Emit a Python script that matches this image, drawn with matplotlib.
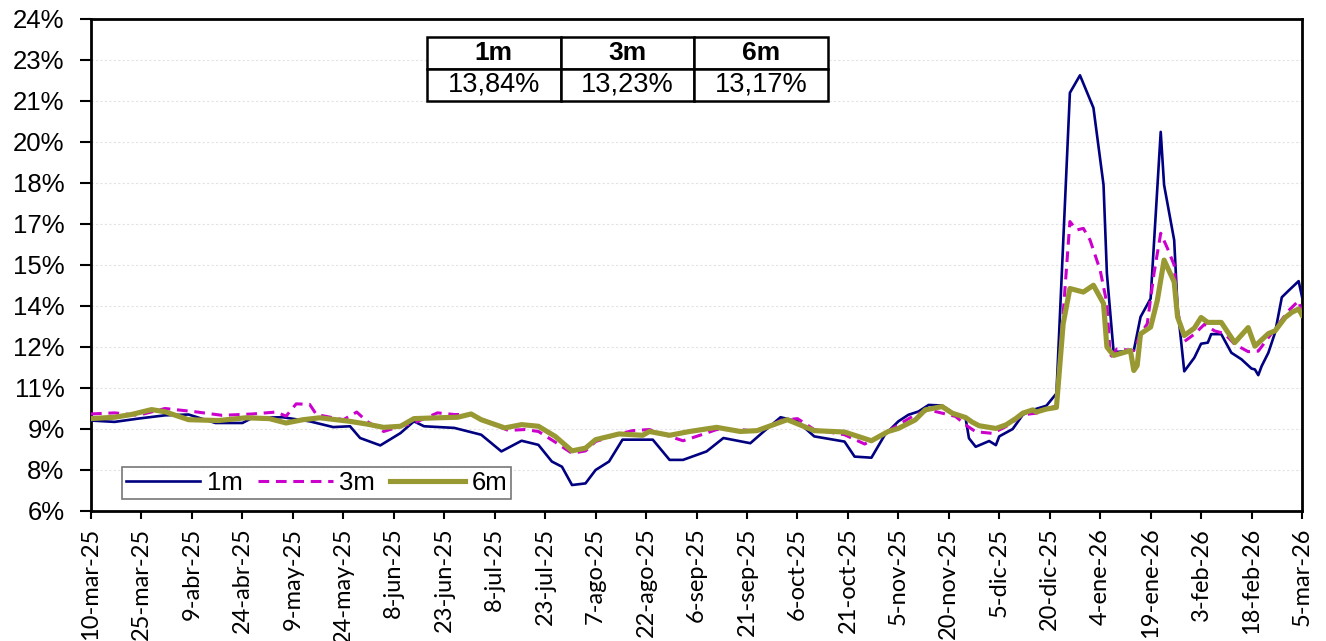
import numpy as np
import matplotlib
matplotlib.use('Agg')
import matplotlib.pyplot as plt
import matplotlib.dates as mdates
from matplotlib.ticker import FixedLocator, FixedFormatter

# ---------------- data ----------------
start_date = np.datetime64('2025-03-10')

days_1m = [0, 7, 14, 22, 29, 37, 45, 48, 57, 65, 72, 77, 80, 86, 92, 96, 99, 108, 116, 122,
           128, 133, 137, 140, 143, 147, 150, 154, 158, 167, 172, 176, 183, 188, 196, 200, 205,
           210, 215, 224, 227, 232, 236, 240, 243, 246, 249, 253, 255, 257, 260, 261, 263, 267,
           269, 270, 274, 277, 280, 284, 287, 291, 294, 298, 301, 302, 304, 310, 312, 315, 318,
           319, 322, 323, 325, 328, 330, 332, 333, 336, 339, 342, 345, 346, 347, 348, 350, 352,
           354, 356, 359, 360]
vol_1m = [9.31, 9.26, 9.38, 9.50, 9.53, 9.22, 9.22, 9.41, 9.43, 9.28, 9.07, 9.10, 8.67, 8.40,
          8.85, 9.28, 9.10, 9.04, 8.79, 8.18, 8.57, 8.42, 7.81, 7.62, 6.95, 7.01, 7.50, 7.81,
          8.61, 8.61, 7.87, 7.87, 8.18, 8.67, 8.48, 8.91, 9.43, 9.28, 8.73, 8.54, 7.99, 7.95,
          8.79, 9.28, 9.52, 9.64, 9.88, 9.86, 9.70, 9.52, 9.39, 8.66, 8.35, 8.56, 8.41, 8.73,
          9.00, 9.52, 9.70, 9.85, 10.30, 21.30, 21.94, 20.75, 17.93, 14.69, 11.81, 11.87, 13.10,
          13.77, 19.87, 17.93, 15.91, 13.46, 11.11, 11.61, 12.12, 12.16, 12.47, 12.47, 11.79,
          11.55, 11.21, 11.18, 10.97, 11.30, 11.79, 12.53, 13.82, 14.06, 14.41, 13.84]

days_3m = [0, 7, 14, 22, 31, 39, 48, 55, 58, 61, 65, 67, 72, 75, 79, 82, 87, 92, 96, 103, 108,
           113, 120, 124, 129, 133, 138, 143, 147, 150, 157, 161, 166, 171, 176, 181, 186, 193,
           198, 205, 210, 215, 224, 230, 236, 240, 245, 249, 253, 257, 260, 263, 268, 272, 277,
           281, 285, 287, 291, 293, 295, 297, 300, 302, 303, 305, 310, 312, 314, 316, 318, 320,
           322, 323, 325, 328, 331, 334, 337, 340, 344, 347, 350, 353, 356, 359, 360]
vol_3m = [9.55, 9.59, 9.50, 9.75, 9.63, 9.50, 9.55, 9.62, 9.47, 9.92, 9.90, 9.53, 9.41, 9.34,
          9.62, 9.28, 8.91, 9.10, 9.22, 9.59, 9.53, 9.53, 9.16, 8.95, 8.98, 8.91, 8.52, 8.11,
          8.20, 8.54, 8.82, 8.94, 8.98, 8.77, 8.57, 8.77, 8.98, 8.98, 8.91, 9.31, 9.38, 8.98,
          8.79, 8.45, 8.85, 9.15, 9.52, 9.70, 9.58, 9.46, 9.15, 8.90, 8.84, 9.09, 9.52, 9.58,
          9.76, 9.85, 16.59, 16.28, 16.34, 15.91, 14.81, 13.59, 11.63, 11.93, 11.87, 12.48,
          12.85, 14.69, 16.16, 15.61, 15.00, 13.33, 12.20, 12.47, 12.83, 12.59, 12.49, 12.10,
          11.83, 11.85, 12.34, 12.83, 13.33, 13.69, 13.23]

days_6m = [0, 7, 12, 18, 22, 29, 38, 46, 53, 58, 63, 68, 77, 82, 87, 92, 96, 103, 109, 113, 116,
           123, 128, 133, 138, 143, 147, 150, 157, 164, 166, 172, 178, 186, 193, 198, 207, 215,
           224, 232, 237, 240, 245, 248, 253, 256, 260, 262, 264, 269, 272, 275, 277, 280, 281,
           284, 287, 289, 291, 295, 298, 301, 302, 304, 309, 310, 311, 312, 315, 317, 319, 322,
           323, 325, 328, 330, 332, 336, 340, 344, 346, 350, 352, 355, 357, 359, 360]
vol_6m = [9.38, 9.43, 9.53, 9.71, 9.63, 9.34, 9.31, 9.41, 9.38, 9.22, 9.34, 9.41, 9.28, 9.18,
          9.06, 9.10, 9.38, 9.41, 9.43, 9.55, 9.34, 9.04, 9.16, 9.10, 8.73, 8.20, 8.30, 8.61,
          8.82, 8.77, 8.91, 8.77, 8.91, 9.06, 8.91, 8.94, 9.34, 8.94, 8.89, 8.57, 8.91, 9.02,
          9.33, 9.70, 9.82, 9.58, 9.42, 9.25, 9.12, 9.02, 9.15, 9.39, 9.58, 9.70, 9.62, 9.73,
          9.79, 12.85, 14.14, 14.01, 14.26, 13.59, 12.00, 11.69, 11.87, 11.14, 11.32, 12.48,
          12.73, 13.71, 15.18, 14.38, 13.10, 12.42, 12.69, 13.08, 12.90, 12.90, 12.16, 12.71,
          12.03, 12.49, 12.59, 13.08, 13.27, 13.39, 13.17]

series_names = ['1m', '3m', '6m']

x_tick_labels = ['10-mar-25', '25-mar-25', '9-abr-25', '24-abr-25', '9-may-25', '24-may-25',
                 '8-jun-25', '23-jun-25', '8-jul-25', '23-jul-25', '7-ago-25', '22-ago-25',
                 '6-sep-25', '21-sep-25', '6-oct-25', '21-oct-25', '5-nov-25', '20-nov-25',
                 '5-dic-25', '20-dic-25', '4-ene-26', '19-ene-26', '3-feb-26', '18-feb-26',
                 '5-mar-26']
y_ticks = [6, 7.5, 9, 10.5, 12, 13.5, 15, 16.5, 18, 19.5, 21, 22.5, 24]
y_tick_labels = ['6%', '8%', '9%', '11%', '12%', '14%', '15%', '17%', '18%', '20%', '21%',
                 '23%', '24%']

table_cols = ['1m', '3m', '6m']
table_vals = ['13,84%', '13,23%', '13,17%']

title_text = 'Volatilidad implícita USD/COP (promedio móvil de 5 días hábiles)'

# ---------------- plot ----------------
plt.rcParams['font.family'] = ['Liberation Sans', 'DejaVu Sans']

fig = plt.figure(figsize=(13.26, 6.41), dpi=100)
ax = fig.add_axes([91 / 1326, 1 - 511 / 641, 1211 / 1326, 492 / 641])


def to_dates(days):
    return start_date + np.array(days, dtype='timedelta64[D]')


ax.plot(to_dates(days_1m), vol_1m, color='#000080', lw=1.9, label=series_names[0], zorder=3)
ax.plot(to_dates(days_3m), vol_3m, color='#CC00CC', lw=2.2, ls=(0, (3.5, 2.2)),
        label=series_names[1], zorder=4)
ax.plot(to_dates(days_6m), vol_6m, color='#999933', lw=3.7, label=series_names[2], zorder=5,
        solid_joinstyle='round')

tick_dates = start_date + np.arange(0, 361, 15).astype('timedelta64[D]')
tick_nums = mdates.date2num(tick_dates)
ax.xaxis.set_major_locator(FixedLocator(tick_nums))
ax.xaxis.set_major_formatter(FixedFormatter(x_tick_labels))
ax.set_xlim(tick_nums[0], tick_nums[-1])

ax.set_ylim(y_ticks[0], y_ticks[-1])
ax.yaxis.set_major_locator(FixedLocator(y_ticks))
ax.yaxis.set_major_formatter(FixedFormatter(y_tick_labels))

ax.grid(axis='y', color='#e3e3e3', lw=0.8, ls=(0, (2, 2)), zorder=0)
for s in ax.spines.values():
    s.set_linewidth(2)
    s.set_color('black')

ax.tick_params(axis='x', direction='out', length=6, width=1.5, pad=6, labelrotation=90,
               labelsize=17)
ax.tick_params(axis='y', direction='out', length=8, width=1.5, pad=11, labelsize=18.5)
for lab in ax.get_xticklabels():
    lab.set_fontfamily(['Lato', 'DejaVu Sans'])

leg = ax.legend(loc='lower left', bbox_to_anchor=(0.0256, 0.0244), borderaxespad=0,
                ncol=3, frameon=True, fancybox=False, fontsize=18.5, handlelength=2.9,
                columnspacing=0.6, handletextpad=0.25, borderpad=0.15)
leg.get_frame().set_edgecolor('#555555')
leg.get_frame().set_linewidth(1.2)

tbl = ax.table(cellText=[table_vals], colLabels=table_cols, cellLoc='center',
               bbox=[336 / 1211, 410 / 492, 401 / 1211, 64 / 492], zorder=6)
tbl.auto_set_font_size(False)
for (r, c), cell in tbl.get_celld().items():
    cell.set_linewidth(1.8)
    cell.set_edgecolor('black')
    cell.set_facecolor('white')
    if r == 0:
        cell.get_text().set_fontweight('bold')
        cell.get_text().set_fontsize(19)
    else:
        cell.get_text().set_fontsize(19.5)

fig.text(0.5882, 1 + 3.5 / 641, title_text, ha='center', va='baseline', fontsize=15,
         fontweight='bold')

fig.savefig('out.png', dpi=100)
